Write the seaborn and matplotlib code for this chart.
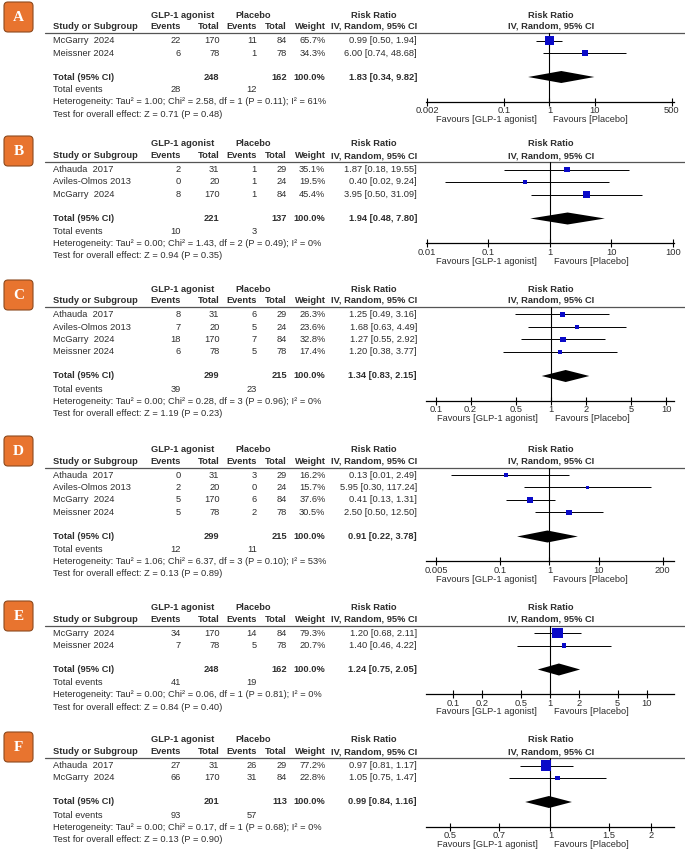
import matplotlib
matplotlib.use('Agg')
import matplotlib.pyplot as plt
from matplotlib.patches import FancyBboxPatch
from matplotlib.ticker import FixedLocator, NullLocator
import seaborn as sns

# ---- data, one entry per panel A-F ----
panels = ['A', 'B', 'C', 'D', 'E', 'F']

studies = [
    ['McGarry  2024', 'Meissner 2024'],
    ['Athauda  2017', 'Aviles-Olmos 2013', 'McGarry  2024'],
    ['Athauda  2017', 'Aviles-Olmos 2013', 'McGarry  2024', 'Meissner 2024'],
    ['Athauda  2017', 'Aviles-Olmos 2013', 'McGarry  2024', 'Meissner 2024'],
    ['McGarry  2024', 'Meissner 2024'],
    ['Athauda  2017', 'McGarry  2024'],
]
glp_events = [[22, 6], [2, 0, 8], [8, 7, 18, 6], [0, 2, 5, 5], [34, 7], [27, 66]]
glp_total = [[170, 78], [31, 20, 170], [31, 20, 170, 78], [31, 20, 170, 78], [170, 78], [31, 170]]
pla_events = [[11, 1], [1, 1, 1], [6, 5, 7, 5], [3, 0, 6, 2], [14, 5], [26, 31]]
pla_total = [[84, 78], [29, 24, 84], [29, 24, 84, 78], [29, 24, 84, 78], [84, 78], [29, 84]]
weights = [[65.7, 34.3], [35.1, 19.5, 45.4], [26.3, 23.6, 32.8, 17.4],
           [16.2, 15.7, 37.6, 30.5], [79.3, 20.7], [77.2, 22.8]]
rr = [[0.99, 6.00], [1.87, 0.40, 3.95], [1.25, 1.68, 1.27, 1.20],
      [0.13, 5.95, 0.41, 2.50], [1.20, 1.40], [0.97, 1.05]]
rr_lo = [[0.50, 0.74], [0.18, 0.02, 0.50], [0.49, 0.63, 0.55, 0.38],
         [0.01, 0.30, 0.13, 0.50], [0.68, 0.46], [0.81, 0.75]]
rr_hi = [[1.94, 48.68], [19.55, 9.24, 31.09], [3.16, 4.49, 2.92, 3.77],
         [2.49, 117.24, 1.31, 12.50], [2.11, 4.22], [1.17, 1.47]]

sum_glp_total = [248, 221, 299, 299, 248, 201]
sum_pla_total = [162, 137, 215, 215, 162, 113]
sum_glp_events = [28, 10, 39, 12, 41, 93]
sum_pla_events = [12, 3, 23, 11, 19, 57]
sum_rr = [1.83, 1.94, 1.34, 0.91, 1.24, 0.99]
sum_lo = [0.34, 0.48, 0.83, 0.22, 0.75, 0.84]
sum_hi = [9.82, 7.80, 2.15, 3.78, 2.05, 1.16]
heterogeneity = [
    'Tau\u00b2 = 1.00; Chi\u00b2 = 2.58, df = 1 (P = 0.11); I\u00b2 = 61%',
    'Tau\u00b2 = 0.00; Chi\u00b2 = 1.43, df = 2 (P = 0.49); I\u00b2 = 0%',
    'Tau\u00b2 = 0.00; Chi\u00b2 = 0.28, df = 3 (P = 0.96); I\u00b2 = 0%',
    'Tau\u00b2 = 1.06; Chi\u00b2 = 6.37, df = 3 (P = 0.10); I\u00b2 = 53%',
    'Tau\u00b2 = 0.00; Chi\u00b2 = 0.06, df = 1 (P = 0.81); I\u00b2 = 0%',
    'Tau\u00b2 = 0.00; Chi\u00b2 = 0.17, df = 1 (P = 0.68); I\u00b2 = 0%',
]
overall_z = ['Z = 0.71 (P = 0.48)', 'Z = 0.94 (P = 0.35)', 'Z = 1.19 (P = 0.23)',
             'Z = 0.13 (P = 0.89)', 'Z = 0.84 (P = 0.40)', 'Z = 0.13 (P = 0.90)']

axis_ticks = [[0.002, 0.1, 1, 10, 500], [0.01, 0.1, 1, 10, 100],
              [0.1, 0.2, 0.5, 1, 2, 5, 10], [0.005, 0.1, 1, 10, 200],
              [0.1, 0.2, 0.5, 1, 2, 5, 10], [0.5, 0.7, 1, 1.5, 2]]
axis_labels = [['0.002', '0.1', '1', '10', '500'], ['0.01', '0.1', '1', '10', '100'],
               ['0.1', '0.2', '0.5', '1', '2', '5', '10'], ['0.005', '0.1', '1', '10', '200'],
               ['0.1', '0.2', '0.5', '1', '2', '5', '10'], ['0.5', '0.7', '1', '1.5', '2']]

# ---- layout (pixels) ----
axis_lims = [(0.0019, 560), (0.0097, 104), (0.082, 11.7), (0.0031, 340), (0.053, 19), (0.423, 2.35)]
rule_y = [33, 162, 307, 467.5, 625.5, 758]
badge_y = [17, 151, 295, 451, 616, 747]

W, H = 685, 852
ROW = 12.5
FS = 6.7
TXT = '#2e2e2e'
BLUE = '#0a0ac8'
ORANGE = '#e8742f'

sns.set_style('white')
plt.rcParams['font.family'] = ['Liberation Sans', 'DejaVu Sans']

fig = plt.figure(figsize=(W / 100, H / 100), dpi=100)
tab = fig.add_axes([0, 0, 1, 1])
tab.set_xlim(0, W)
tab.set_ylim(H, 0)
tab.axis('off')


def put(x, y, s, ha='right', bold=False):
    tab.text(x, y, s, ha=ha, va='center', fontsize=FS, color=TXT,
             fontweight='bold' if bold else 'normal')


def ci_text(r, lo, hi):
    return f'{r:.2f} [{lo:.2f}, {hi:.2f}]'


for k, letter in enumerate(panels):
    line = rule_y[k]
    n = len(studies[k])
    rows = [line + 7.5 + i * ROW for i in range(n)]
    tot = rows[-1] + 24
    axis_y = tot + 24.5

    # badge
    by = badge_y[k]
    tab.add_patch(FancyBboxPatch((4, by - 15), 29, 30,
                                 boxstyle='round,pad=0,rounding_size=4',
                                 fc=ORANGE, ec='#8d4a1f', lw=0.8))
    tab.text(18.5, by + 0.5, letter, ha='center', va='center', color='white',
             fontsize=11, fontweight='bold', family='Liberation Serif')

    # headers
    put(183, line - 18, 'GLP-1 agonist', ha='center', bold=True)
    put(253, line - 18, 'Placebo', ha='center', bold=True)
    put(374, line - 18, 'Risk Ratio', ha='center', bold=True)
    put(551, line - 18, 'Risk Ratio', ha='center', bold=True)
    h2 = line - 6.5
    put(53.5, h2, 'Study or Subgroup', ha='left', bold=True)
    put(181, h2, 'Events', bold=True)
    put(219.5, h2, 'Total', bold=True)
    put(257, h2, 'Events', bold=True)
    put(287, h2, 'Total', bold=True)
    put(325.5, h2, 'Weight', bold=True)
    put(374, h2, 'IV, Random, 95% CI', ha='center', bold=True)
    put(551, h2, 'IV, Random, 95% CI', ha='center', bold=True)
    tab.plot([45, 685], [line, line], color='#555555', lw=0.9)

    # study rows
    for i, y in enumerate(rows):
        put(53.5, y, studies[k][i], ha='left')
        put(181, y, str(glp_events[k][i]))
        put(219.5, y, str(glp_total[k][i]))
        put(257, y, str(pla_events[k][i]))
        put(287, y, str(pla_total[k][i]))
        put(325.5, y, f'{weights[k][i]:.1f}%')
        put(417, y, ci_text(rr[k][i], rr_lo[k][i], rr_hi[k][i]))

    # summary rows
    put(53.5, tot, 'Total (95% CI)', ha='left', bold=True)
    put(219.5, tot, str(sum_glp_total[k]), bold=True)
    put(287, tot, str(sum_pla_total[k]), bold=True)
    put(325.5, tot, '100.0%', bold=True)
    put(417, tot, ci_text(sum_rr[k], sum_lo[k], sum_hi[k]), bold=True)
    put(53.5, tot + 13, 'Total events', ha='left')
    put(181, tot + 13, str(sum_glp_events[k]))
    put(257, tot + 13, str(sum_pla_events[k]))
    put(53.5, tot + 25, 'Heterogeneity: ' + heterogeneity[k], ha='left')
    put(53.5, tot + 37.5, 'Test for overall effect: ' + overall_z[k], ha='left')

    # forest panel
    ax = fig.add_axes([426 / W, 1 - axis_y / H, 248 / W, (axis_y - line) / H])
    ax.patch.set_alpha(0)
    ax.set_xscale('log')
    ax.axvline(1, color='black', lw=0.8, zorder=1)
    ax.hlines(rows, rr_lo[k], rr_hi[k], color='black', lw=0.7, zorder=2)
    sizes = [((2 + 0.11 * w) * 0.72) ** 2 for w in weights[k]]
    sns.scatterplot(x=rr[k], y=rows, s=sizes, marker='s', color=BLUE,
                    linewidth=0, ax=ax, legend=False, zorder=3)
    ax.fill([sum_lo[k], sum_rr[k], sum_hi[k], sum_rr[k]],
            [tot, tot - 6, tot, tot + 6], color='black', lw=0, zorder=3)
    ax.set_xlim(*axis_lims[k])
    ax.set_ylim(axis_y, line)
    ax.xaxis.set_major_locator(FixedLocator(axis_ticks[k]))
    ax.xaxis.set_minor_locator(NullLocator())
    ax.set_xticklabels(axis_labels[k])
    ax.set_yticks([])
    ax.set_xlabel('')
    ax.set_ylabel('')
    ax.tick_params(axis='x', direction='inout', length=5.5, width=0.8, pad=0.5,
                   labelsize=FS, labelcolor=TXT, color='black', bottom=True)
    for side in ['top', 'left', 'right']:
        ax.spines[side].set_visible(False)
    ax.spines['bottom'].set_linewidth(0.9)
    ax.spines['bottom'].set_color('black')
    ax.annotate('Favours [GLP-1 agonist]', xy=(1, 0), xycoords=('data', 'axes fraction'),
                xytext=(-13 * 0.72, -18 * 0.72), textcoords='offset points',
                ha='right', va='center', fontsize=FS, color=TXT, annotation_clip=False)
    ax.annotate('Favours [Placebo]', xy=(1, 0), xycoords=('data', 'axes fraction'),
                xytext=(4 * 0.72, -18 * 0.72), textcoords='offset points',
                ha='left', va='center', fontsize=FS, color=TXT, annotation_clip=False)

fig.savefig('out.png', dpi=100)
